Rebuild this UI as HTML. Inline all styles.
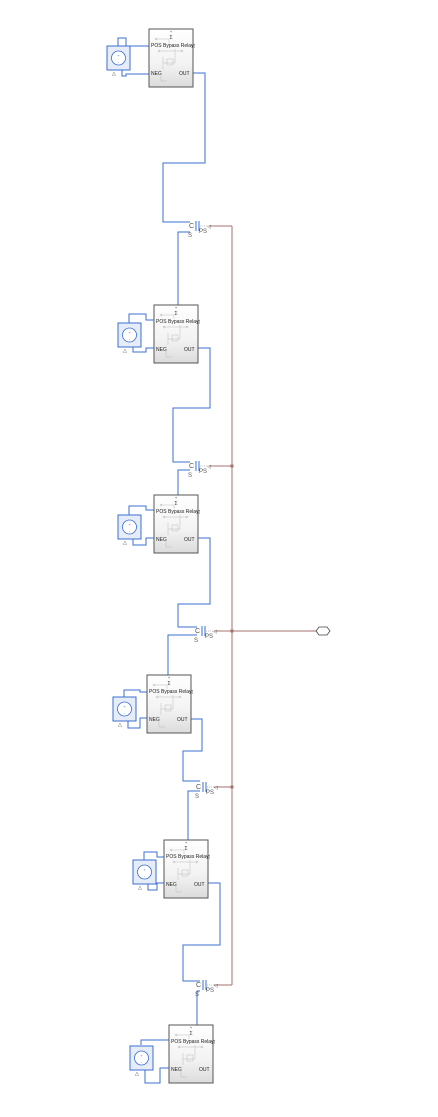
<!DOCTYPE html>
<html><head><meta charset="utf-8"><style>
html,body{margin:0;padding:0;background:#fff;}
svg{display:block;font-family:"Liberation Sans",sans-serif;}
</style></head><body>
<svg width="438" height="1117" viewBox="0 0 438 1117" xmlns="http://www.w3.org/2000/svg">
<defs>
<linearGradient id="g" x1="0" y1="0" x2="0" y2="1">
<stop offset="0" stop-color="#ffffff"/><stop offset="0.6" stop-color="#f3f3f3"/><stop offset="1" stop-color="#dcdcdc"/>
</linearGradient>
<g id="blk">
<rect x="0" y="0" width="44" height="58" fill="url(#g)" stroke="#555" stroke-width="1"/>
<text x="22" y="4" font-size="4" text-anchor="middle" fill="#333">+</text>
<text x="22" y="10" font-size="5" text-anchor="middle" fill="#333">Σ</text>
<text x="2" y="18" font-size="5" fill="#222">POS</text>
<text x="14" y="18" font-size="5" fill="#222">Bypass Relay</text>
<text x="42" y="18" font-size="5" fill="#222">◁</text>
<text x="2" y="46" font-size="5" fill="#222">NEG</text>
<text x="30" y="46" font-size="5" fill="#222">OUT</text>
<g stroke="#bbb" stroke-width="0.5" fill="none">
<path d="M7 10 H20 V14"/><circle cx="7" cy="10" r="1"/>
<path d="M10 22 H33"/><circle cx="10" cy="22" r="1"/><circle cx="33" cy="22" r="1"/>
<path d="M14 28 V40 M14 34 H26 V20 M18 30 H24 V36 H18Z"/>
<path d="M12 44 V52 H18"/>
</g>
</g>
<g id="src">
<rect x="0" y="0" width="23" height="24" fill="#e6ecf8" stroke="#3b6fd0" stroke-width="1"/>
<circle cx="11.5" cy="12" r="7" fill="#fff" stroke="#3b6fd0" stroke-width="0.8"/>
<text x="11.5" y="11" font-size="4" text-anchor="middle" fill="#3b6fd0">+</text>
<text x="11.5" y="17" font-size="4" text-anchor="middle" fill="#3b6fd0">-</text>
<text x="5" y="29" font-size="5" fill="#444">△</text>
</g>
<g id="sw">
<text x="-9" y="2" font-size="7" fill="#555">C</text>
<text x="-10" y="11" font-size="6" fill="#555">S</text>
<path d="M-2 -5 V5 M1 -5 V5" stroke="#3b6fd0" stroke-width="1"/>
<text x="1" y="7" font-size="6" fill="#555">PS</text>
<path d="M2 0 H10" stroke="#888" stroke-width="0.6" stroke-dasharray="1,1"/>
<text x="9" y="2" font-size="5" fill="#555">◁</text>
</g>
</defs>

<!-- red bus -->
<g stroke="#a77070" stroke-width="1" fill="none">
<path d="M232 226 V985"/>
<path d="M209 226 H232"/><path d="M209 466 H232"/><path d="M214 631 H316"/>
<path d="M214 787 H232"/><path d="M214 985 H232"/>
</g>
<g fill="#a77070">
<rect x="230.5" y="464.5" width="3" height="3"/><rect x="230.5" y="629.5" width="3" height="3"/><rect x="230.5" y="785.5" width="3" height="3"/>
</g>
<path d="M316 631 L319 627 H327 L330 631 L327 635 H319 Z" fill="#fff" stroke="#444" stroke-width="0.8"/>

<!-- blue wires -->
<g stroke="#3b6fd0" stroke-width="1" fill="none">
<!-- block 1 -->
<path d="M118 46 V38 H126 V46 H149"/><path d="M122 70 V76 H126 V74 H149"/>
<path d="M193 73 H205 V163 H163 V222 H190"/>
<path d="M190 232 H178 V305"/>
<!-- block 2 -->
<path d="M129 323 V314 H146 V320 H154"/><path d="M133 347 V352 H146 V348 H154"/>
<path d="M198 348 H210 V408 H173 V462 H190"/>
<path d="M190 470 H178 V495"/>
<!-- block 3 -->
<path d="M129 515 V506 H146 V510 H154"/><path d="M133 539 V545 H146 V538 H154"/>
<path d="M198 538 H210 V604 H178 V627 H197"/>
<path d="M197 635 H168 V675"/>
<!-- block 4 -->
<path d="M124 697 V690 H140 V692 H147"/><path d="M128 721 V728 H140 V718 H147"/>
<path d="M190 719 H202 V751 H183 V781 H200"/>
<path d="M200 791 H188 V840"/>
<!-- block 5 -->
<path d="M144 860 V852 H157 V857 H164"/><path d="M148 884 V890 H157 V883 H164"/>
<path d="M207 883 H220 V945 H183 V981 H200"/>
<path d="M200 991 H197 V1025"/>
<!-- block 6 -->
<path d="M141 1045 V1040 H162 V1040 H169"/><path d="M145 1070 V1083 H160 V1068 H169"/>
</g>

<use href="#blk" x="149" y="29"/><use href="#src" x="107" y="46"/>
<use href="#blk" x="154" y="305"/><use href="#src" x="118" y="323"/>
<use href="#blk" x="154" y="495"/><use href="#src" x="118" y="515"/>
<use href="#blk" x="147" y="675"/><use href="#src" x="113" y="697"/>
<use href="#blk" x="164" y="840"/><use href="#src" x="133" y="860"/>
<use href="#blk" x="169" y="1025"/><use href="#src" x="130" y="1046"/>

<use href="#sw" x="198" y="226"/>
<use href="#sw" x="198" y="466"/>
<use href="#sw" x="204" y="631"/>
<use href="#sw" x="205" y="787"/>
<use href="#sw" x="205" y="985"/>
</svg>
</body></html>
